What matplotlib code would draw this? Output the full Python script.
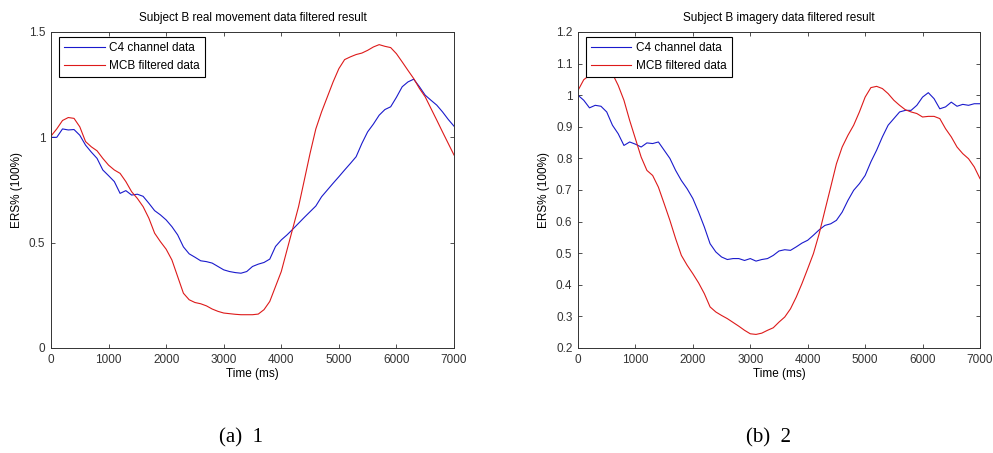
import numpy as np
import matplotlib

matplotlib.use("Agg")
import matplotlib.pyplot as plt

plt.rcParams["font.family"] = ["Liberation Sans", "DejaVu Sans"]

TIME_MS = list(range(0, 7001, 100))

# (a) real movement
A_C4 = [1.00, 1.00, 1.04, 1.035, 1.037, 1.01, 0.963, 0.93, 0.90, 0.845,
        0.818, 0.79, 0.734, 0.747, 0.726, 0.73, 0.72, 0.687, 0.652, 0.632,
        0.608, 0.576, 0.537, 0.48, 0.447, 0.431, 0.414, 0.41, 0.403, 0.387,
        0.371, 0.363, 0.358, 0.355, 0.363, 0.387, 0.398, 0.406, 0.422, 0.482,
        0.513, 0.537, 0.564, 0.592, 0.62, 0.647, 0.674, 0.718, 0.75, 0.782,
        0.813, 0.845, 0.876, 0.908, 0.971, 1.026, 1.063, 1.105, 1.132, 1.145,
        1.19, 1.24, 1.263, 1.276, 1.24, 1.20, 1.176, 1.153, 1.121, 1.085,
        1.053]
A_MCB = [1.006, 1.04, 1.08, 1.094, 1.09, 1.05, 0.98, 0.955, 0.936, 0.90,
         0.868, 0.845, 0.829, 0.79, 0.742, 0.71, 0.671, 0.616, 0.545, 0.505,
         0.469, 0.418, 0.339, 0.26, 0.229, 0.216, 0.21, 0.20, 0.185, 0.174,
         0.166, 0.163, 0.16, 0.158, 0.158, 0.158, 0.161, 0.182, 0.221, 0.292,
         0.363, 0.466, 0.568, 0.671, 0.797, 0.924, 1.04, 1.121, 1.192, 1.263,
         1.326, 1.369, 1.382, 1.393, 1.40, 1.413, 1.429, 1.44, 1.432, 1.426,
         1.397, 1.358, 1.318, 1.279, 1.232, 1.192, 1.137, 1.082, 1.026, 0.971,
         0.916]

# (b) imagery
B_C4 = [1.00, 0.984, 0.96, 0.968, 0.965, 0.947, 0.905, 0.878, 0.841, 0.852,
        0.845, 0.836, 0.849, 0.847, 0.852, 0.826, 0.80, 0.762, 0.73, 0.704,
        0.673, 0.63, 0.583, 0.53, 0.504, 0.488, 0.48, 0.483, 0.483, 0.477,
        0.483, 0.475, 0.48, 0.483, 0.493, 0.507, 0.511, 0.509, 0.52, 0.532,
        0.541, 0.557, 0.574, 0.588, 0.593, 0.604, 0.63, 0.667, 0.699, 0.72,
        0.746, 0.789, 0.826, 0.868, 0.905, 0.926, 0.947, 0.952, 0.952, 0.968,
        0.994, 1.008, 0.989, 0.957, 0.963, 0.978, 0.965, 0.971, 0.968, 0.973,
        0.973]
B_MCB = [1.015, 1.049, 1.063, 1.068, 1.07, 1.07, 1.068, 1.031, 0.984, 0.92,
         0.862, 0.804, 0.762, 0.746, 0.709, 0.657, 0.604, 0.546, 0.493, 0.462,
         0.435, 0.406, 0.372, 0.33, 0.314, 0.303, 0.293, 0.281, 0.269, 0.256,
         0.245, 0.243, 0.247, 0.256, 0.264, 0.282, 0.298, 0.324, 0.361, 0.404,
         0.451, 0.499, 0.562, 0.636, 0.709, 0.783, 0.836, 0.873, 0.905, 0.947,
         0.994, 1.024, 1.028, 1.021, 1.005, 0.984, 0.968, 0.954, 0.947, 0.942,
         0.931, 0.933, 0.933, 0.926, 0.894, 0.868, 0.836, 0.815, 0.799, 0.773,
         0.736]

PANELS = [
    ("Subject B real movement data filtered result", A_C4, A_MCB,
     (0, 1.5), [0, 0.5, 1, 1.5], ["0", "0.5", "1", "1.5"], "(a)  1"),
    ("Subject B imagery data filtered result", B_C4, B_MCB,
     (0.2, 1.2), np.round(np.arange(0.2, 1.21, 0.1), 1),
     ["0.2", "0.3", "0.4", "0.5", "0.6", "0.7", "0.8", "0.9", "1", "1.1", "1.2"],
     "(b)  2"),
]
AX_BOXES = [(51, 454), (578, 980)]
CAPTION_X = [241, 768]

W, H = 993, 453
FS = 8.5
fig = plt.figure(figsize=(W / 100, H / 100), dpi=100)

for (title, c4, mcb, ylim, yticks, ylabels, caption), (x0, x1), cx in zip(PANELS, AX_BOXES, CAPTION_X):
    ax = fig.add_axes([x0 / W, 1 - 348 / H, (x1 - x0) / W, (348 - 32) / H])
    ax.plot(TIME_MS, c4, color="#1a1acc", linewidth=0.8, label="C4 channel data")
    ax.plot(TIME_MS, mcb, color="#dd1a1a", linewidth=0.8, label="MCB filtered data")
    ax.set_xlim(0, 7000)
    ax.set_ylim(*ylim)
    ax.set_xticks(range(0, 7001, 1000))
    ax.set_yticks(yticks)
    ax.set_yticklabels(ylabels)
    ax.tick_params(direction="in", top=True, right=True, labelsize=FS,
                   length=3, width=0.6, colors="#333333", pad=4)
    for sp in ax.spines.values():
        sp.set_linewidth(0.7)
        sp.set_color("#333333")
    ax.set_title(title, fontsize=FS, pad=8)
    ax.set_xlabel("Time (ms)", fontsize=FS, labelpad=2)
    ax.set_ylabel("ERS% (100%)", fontsize=FS, labelpad=4)
    leg = ax.legend(loc="upper left", fontsize=FS, fancybox=False, framealpha=1,
                    edgecolor="black", handlelength=3.4, borderpad=0.45,
                    labelspacing=0.5, handletextpad=0.4, borderaxespad=0,
                    bbox_to_anchor=(0.02, 0.985))
    leg.get_frame().set_linewidth(0.8)
    fig.text(cx / W, 1 - 438 / H, caption, ha="center", va="center",
             fontsize=15, family=["Liberation Serif", "DejaVu Serif"])

fig.savefig("out.png", dpi=100)
